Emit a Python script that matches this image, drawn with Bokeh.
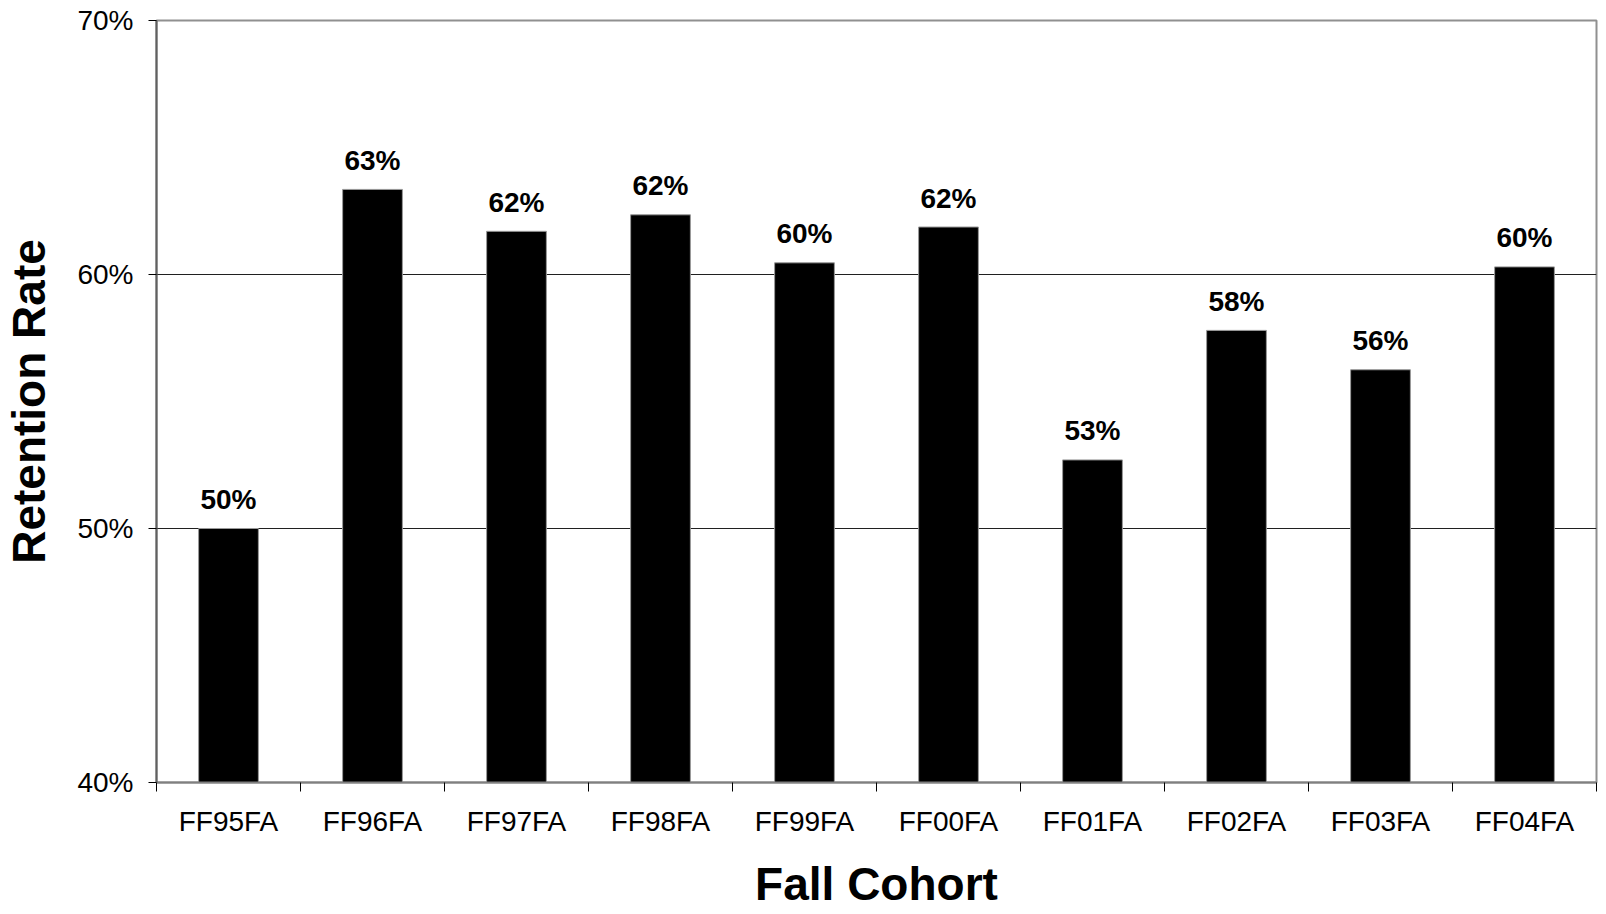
from bokeh.plotting import figure
from bokeh.models import ColumnDataSource, FixedTicker, PrintfTickFormatter, Range1d
from bokeh.core.properties import value
from bokeh.embed import file_html
from bokeh.resources import INLINE

cohorts = ["FF95FA", "FF96FA", "FF97FA", "FF98FA", "FF99FA",
           "FF00FA", "FF01FA", "FF02FA", "FF03FA", "FF04FA"]
retention = [50.0, 63.35, 61.7, 62.35, 60.46, 61.87, 52.7, 57.8, 56.25, 60.3]
y_ticks = [40, 50, 60, 70]

FONT = "Liberation Sans"

xs = [i + 0.5 for i in range(len(cohorts))]
labels = ["%d%%" % round(v) for v in retention]
src = ColumnDataSource(dict(x=xs, top=retention, label=labels))

p = figure(width=1598, height=912, output_backend="svg", toolbar_location=None,
           x_range=Range1d(0, len(cohorts)), y_range=Range1d(40, 70),
           min_border_left=148, min_border_right=2, min_border_top=20,
           min_border_bottom=0)

p.vbar(x="x", top="top", bottom=40, width=0.415, source=src,
       fill_color="black", line_color="#999999", line_width=1)
p.text(x="x", y="top", text="label", source=src, text_align="center",
       text_baseline="alphabetic", y_offset=-29, text_font=value(FONT),
       text_font_style="bold", text_font_size="28px", text_color="black")

# x axis: labels at centres, ticks at category boundaries (minor ticks)
p.xaxis.ticker = FixedTicker(ticks=xs, minor_ticks=list(range(len(cohorts) + 1)))
p.xaxis.major_label_overrides = {x: c for x, c in zip(xs, cohorts)}
p.xaxis.major_tick_out = 0
p.xaxis.major_tick_in = 0
p.xaxis.minor_tick_out = 9
p.xaxis.minor_tick_in = 0
p.xaxis.minor_tick_line_color = "black"
p.xaxis.major_label_text_font = FONT
p.xaxis.major_label_text_font_size = "28px"
p.xaxis.major_label_text_color = "black"
p.xaxis.major_label_standoff = 14
p.xaxis.axis_label = "Fall Cohort"
p.xaxis.axis_label_text_font = FONT
p.xaxis.axis_label_text_font_size = "46px"
p.xaxis.axis_label_text_font_style = "bold"
p.xaxis.axis_label_text_color = "black"
p.xaxis.axis_label_standoff = 18
p.xaxis.axis_line_color = "#808080"
p.xaxis.axis_line_width = 2

p.yaxis.ticker = FixedTicker(ticks=y_ticks, minor_ticks=[])
p.yaxis.formatter = PrintfTickFormatter(format="%d%%")
p.yaxis.major_tick_out = 8
p.yaxis.major_tick_in = 0
p.yaxis.major_tick_line_color = "black"
p.yaxis.major_label_text_font = FONT
p.yaxis.major_label_text_font_size = "28px"
p.yaxis.major_label_text_color = "black"
p.yaxis.major_label_standoff = 15
p.yaxis.axis_label = "Retention Rate"
p.yaxis.axis_label_text_font = FONT
p.yaxis.axis_label_text_font_size = "46px"
p.yaxis.axis_label_text_font_style = "bold"
p.yaxis.axis_label_text_color = "black"
p.yaxis.axis_label_standoff = 19
p.yaxis.axis_line_color = "#606060"
p.yaxis.axis_line_width = 2

p.xgrid.grid_line_color = None
p.ygrid.grid_line_color = "#202020"
p.ygrid.grid_line_width = 1
p.outline_line_color = "#909090"
p.outline_line_width = 2
p.background_fill_color = "white"
p.border_fill_color = "white"

open("out.html", "w").write(file_html(p, INLINE))
